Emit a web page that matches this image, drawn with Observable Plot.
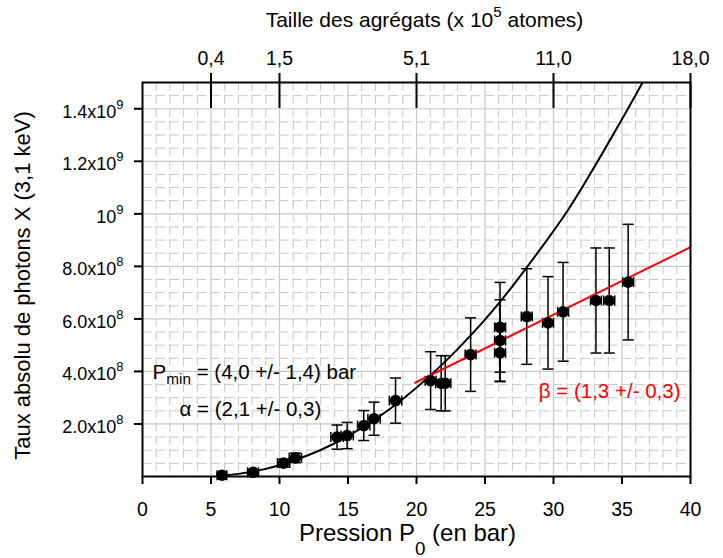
<!DOCTYPE html>
<html><head><meta charset="utf-8">
<script src="https://cdn.jsdelivr.net/npm/d3@7"></script>
<script src="https://cdn.jsdelivr.net/npm/@observablehq/plot@0.6"></script>
<style>html,body{margin:0;padding:0;background:#fff;}</style>
</head><body><div id="chart"></div>
<script>
// ---- data ----
const pressure    = [5.8, 8.07, 10.3, 11.16, 14.2, 14.94, 16.15, 16.9, 18.47, 21.03, 21.8, 22.1, 23.95, 26.1, 26.1, 26.1, 28.05, 29.6, 30.7, 33.1, 34.07, 35.45];
const photons     = [0.05e8, 0.16e8, 0.51e8, 0.71e8, 1.50e8, 1.56e8, 1.94e8, 2.20e8, 2.89e8, 3.65e8, 3.55e8, 3.55e8, 4.64e8, 5.68e8, 5.18e8, 4.71e8, 6.09e8, 5.85e8, 6.27e8, 6.70e8, 6.70e8, 7.40e8];
const photonsErr  = [0.08e8, 0.1e8, 0.15e8, 0.18e8, 0.46e8, 0.5e8, 0.57e8, 0.63e8, 0.86e8, 1.1e8, 1.05e8, 1.05e8, 1.4e8, 1.71e8, 1.55e8, 1.1e8, 1.82e8, 1.76e8, 1.88e8, 2.0e8, 2.0e8, 2.2e8];
const pressureErr = [0.35, 0.4, 0.45, 0.45, 0.45, 0.45, 0.45, 0.45, 0.45, 0.4, 0.4, 0.4, 0.4, 0.4, 0.4, 0.4, 0.4, 0.4, 0.4, 0.4, 0.4, 0.4];

// fitted power law (alpha) curve
const alphaCurveP = [5.5, 7, 9, 11, 13, 15, 17, 19, 21, 23, 25, 27, 29, 31, 33, 35, 36.5];
const alphaCurveY = [0.023e8, 0.10e8, 0.29e8, 0.60e8, 1.01e8, 1.54e8, 2.18e8, 2.95e8, 3.84e8, 4.85e8, 5.97e8, 7.24e8, 8.63e8, 10.1e8, 11.8e8, 13.6e8, 15.0e8];
// fitted beta line
const betaLineP = [19.9, 40];
const betaLineY = [3.57e8, 8.73e8];

const bottomTicks = [0, 5, 10, 15, 20, 25, 30, 35, 40];
const yTicks = [2e8, 4e8, 6e8, 8e8, 1e9, 1.2e9, 1.4e9];
const topTickP = [5, 10, 20, 30, 40];
const topTickLabels = ["0,4", "1,5", "5,1", "11,0", "18,0"];

const xMinor = d3.range(1, 40).filter(v => v % 5 !== 0);
const xMajor = [5, 10, 15, 20, 25, 30, 35];
const yMinor = d3.range(1, 30).filter(k => k % 4 !== 0).map(k => k * 5e7);
const yMajor = [2e8, 4e8, 6e8, 8e8, 1e9, 1.2e9, 1.4e9];

const rows = pressure.map((p, i) => ({p, y: photons[i], ey: photonsErr[i], ep: pressureErr[i]}));
const alphaCurve = alphaCurveP.map((p, i) => ({p, y: alphaCurveY[i]}));
const betaLine = betaLineP.map((p, i) => ({p, y: betaLineY[i]}));

const hcap = {draw(ctx, size) { const r = Math.sqrt(size / Math.PI); ctx.moveTo(-r, 0); ctx.lineTo(r, 0); }};
const vcap = {draw(ctx, size) { const r = Math.sqrt(size / Math.PI); ctx.moveTo(0, -r); ctx.lineTo(0, r); }};

function fmtY(v) {
  if (v === 1e9) return "10^{9}";
  const e = v >= 1e9 ? 9 : 8;
  return (v / Math.pow(10, e)).toFixed(1) + "x10^{" + e + "}";
}

const FONT = "'Liberation Sans', Arial, Helvetica, sans-serif";
const gridColor = "#c8c8c8";

const chart = Plot.plot({
  width: 723, height: 558,
  marginTop: 82, marginBottom: 82, marginLeft: 142, marginRight: 33,
  style: {fontFamily: FONT, background: "#fff", color: "#000"},
  x: {domain: [0, 40]},
  y: {domain: [0, 1.5e9]},
  marks: [
    Plot.gridX(xMinor, {stroke: gridColor, strokeOpacity: 1, strokeWidth: 1, strokeDasharray: "9,4.1"}),
    Plot.gridY(yMinor, {stroke: gridColor, strokeOpacity: 1, strokeWidth: 1, strokeDasharray: "9.5,4.2"}),
    Plot.gridX(xMajor, {stroke: gridColor, strokeOpacity: 1, strokeWidth: 1.2}),
    Plot.gridY(yMajor, {stroke: gridColor, strokeOpacity: 1, strokeWidth: 1.2}),
    // error bars
    Plot.ruleX(rows, {x: "p", y1: d => d.y - d.ey, y2: d => d.y + d.ey, stroke: "black", strokeWidth: 1.5, clip: true}),
    Plot.ruleY(rows, {y: "y", x1: d => d.p - d.ep, x2: d => d.p + d.ep, stroke: "black", strokeWidth: 1.5}),
    Plot.dot(rows, {x: "p", y: d => d.y + d.ey, symbol: hcap, r: 5.5, fill: "none", stroke: "black", strokeWidth: 1.5}),
    Plot.dot(rows.filter(d => d.y - d.ey > 0), {x: "p", y: d => d.y - d.ey, symbol: hcap, r: 5.5, fill: "none", stroke: "black", strokeWidth: 1.5}),
    Plot.dot(rows, {x: d => d.p - d.ep, y: "y", symbol: vcap, r: 5, fill: "none", stroke: "black", strokeWidth: 1.5}),
    Plot.dot(rows, {x: d => d.p + d.ep, y: "y", symbol: vcap, r: 5, fill: "none", stroke: "black", strokeWidth: 1.5}),
    // fits
    Plot.line(alphaCurve, {x: "p", y: "y", stroke: "black", strokeWidth: 2, curve: "natural", clip: true}),
    Plot.line(betaLine, {x: "p", y: "y", stroke: "#ff0000", strokeWidth: 2}),
    // points
    Plot.dot(rows, {x: "p", y: "y", r: 5.8, fill: "black", stroke: "none"}),
    // frame + axes
    Plot.frame({stroke: "black", strokeWidth: 2}),
    Plot.axisY({anchor: "left", ticks: yTicks, tickFormat: () => "", tickSize: 8, strokeWidth: 2, label: null}),
    Plot.axisY({anchor: "left", ticks: yTicks, tickFormat: fmtY, tickSize: 0, tickPadding: 19, fontSize: 18, dy: 3, label: null}),
    Plot.axisX({anchor: "bottom", ticks: bottomTicks, tickSize: 8, tickPadding: 18, strokeWidth: 2, fontSize: 19.5, label: null}),
    Plot.axisX({anchor: "top", ticks: topTickP, tickFormat: d => topTickLabels[topTickP.indexOf(d)], tickSize: 35, tickPadding: 8, dy: 25, strokeWidth: 2, fontSize: 19.5, label: null}),
    // titles
    Plot.text(["Taille des agrégats (x 10^{5} atomes)"], {frameAnchor: "top", dx: 8, dy: -56, lineAnchor: "bottom", fontSize: 21, text: d => d}),
    Plot.text(["Pression P_{0} (en bar)"], {frameAnchor: "bottom", dx: -9, dy: 64, lineAnchor: "bottom", fontSize: 24, text: d => d}),
    Plot.text(["Taux absolu de photons X (3,1 keV)"], {frameAnchor: "left", dx: -113, dy: 6, rotate: -90, textAnchor: "middle", lineAnchor: "bottom", fontSize: 22, text: d => d}),
    // annotations
    Plot.text(["P_{min} = (4,0 +/- 1,4) bar"], {frameAnchor: "bottom-left", dx: 10, dy: -98, textAnchor: "start", lineAnchor: "bottom", fontSize: 20.5, text: d => d}),
    Plot.text(["α = (2,1 +/- 0,3)"], {frameAnchor: "bottom-left", dx: 37, dy: -61, textAnchor: "start", lineAnchor: "bottom", fontSize: 20.5, text: d => d}),
    Plot.text(["β = (1,3 +/- 0,3)"], {frameAnchor: "bottom-right", dx: -10, dy: -79, textAnchor: "end", lineAnchor: "bottom", fontSize: 20.5, fill: "#ff0000", text: d => d})
  ]
});

document.getElementById("chart").appendChild(chart);

// turn ^{..} and _{..} markup into real superscript / subscript tspans
const NS = "http://www.w3.org/2000/svg";
function richify(el) {
  const s = el.textContent;
  if (!/[\^_]\{/.test(s)) return;
  const fs = parseFloat(getComputedStyle(el).fontSize) || 16;
  const deepSub = s.startsWith("Pression");
  el.textContent = "";
  const re = /([\^_])\{([^}]*)\}/g;
  let last = 0, m;
  while ((m = re.exec(s))) {
    if (m.index > last) { const t = document.createElementNS(NS, "tspan"); t.textContent = s.slice(last, m.index); el.appendChild(t); }
    const t = document.createElementNS(NS, "tspan");
    t.textContent = m[2];
    if (m[1] === "^") {
      t.setAttribute("font-size", (fs * 0.72) + "px");
      t.setAttribute("baseline-shift", (fs * 0.48) + "px");
    } else {
      t.setAttribute("font-size", (fs * (deepSub ? 0.78 : 0.75)) + "px");
      t.setAttribute("baseline-shift", (-fs * (deepSub ? 0.6 : 0.25)) + "px");
    }
    el.appendChild(t);
    last = re.lastIndex;
  }
  if (last < s.length) { const t = document.createElementNS(NS, "tspan"); t.textContent = s.slice(last); el.appendChild(t); }
}
chart.querySelectorAll("text").forEach(t => {
  const spans = t.querySelectorAll("tspan");
  if (spans.length) spans.forEach(richify); else richify(t);
});
</script>
</body></html>
